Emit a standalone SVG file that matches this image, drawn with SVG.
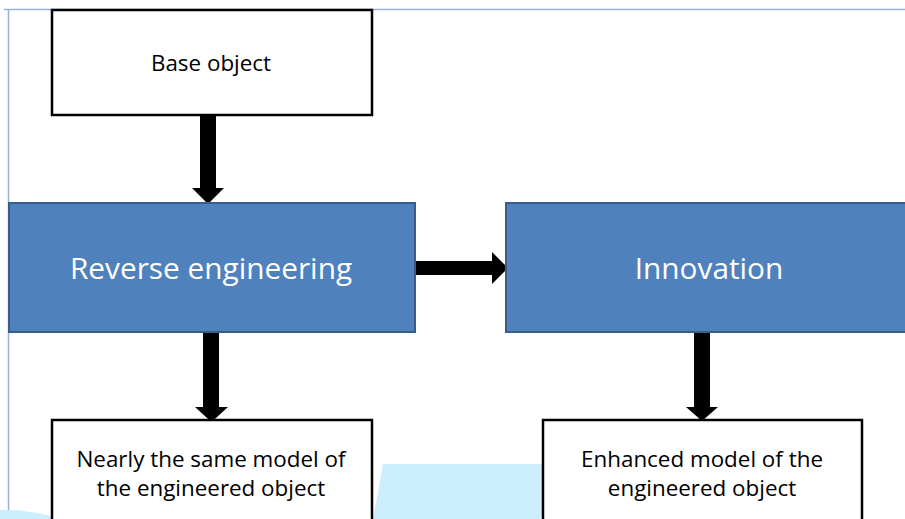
<svg xmlns="http://www.w3.org/2000/svg" width="905" height="519" viewBox="0 0 905 519">
<style>
.wbox{fill:#ffffff;stroke:#000000;stroke-width:2.5}
.bbox{fill:#4f81bd;stroke:#385d8a;stroke-width:2}
.dt{font-family:"Open Sans","Liberation Sans",sans-serif;font-size:22.4px;fill:#000000;text-anchor:middle}
.lt{font-family:"Open Sans","Liberation Sans",sans-serif;font-size:29.8px;fill:#ffffff;text-anchor:middle}
.arr{fill:#000000}
.frame{stroke:#95b3d7;stroke-width:1.5;fill:none}
.deco{fill:#cdeefd}
</style>
<rect width="905" height="519" fill="#ffffff"/>
<g id="frame">
<path class="frame" d="M4 9.5 H905 M8.5 9.5 V519"/>
</g>
<g id="decor">
<path class="deco" d="M383 464 L545 464 L545 514 L540 519 L373 519 Z"/>
<path class="deco" d="M0 510 Q30 509 62 519 L0 519 Z"/>
</g>
<g id="connectors">
<polygon class="arr" points="200,115 216,115 216,188 224,188 208,204 192,188 200,188"/>
<polygon class="arr" points="203,332 219,332 219,407 228,407 211.5,422 195,407 203,407"/>
<polygon class="arr" points="694,332 710,332 710,407 718,407 702,421 686,407 694,407"/>
<polygon class="arr" points="416,261 492,261 492,252 508,268 492,284 492,275 416,275"/>
</g>
<g id="base">
<rect class="wbox" x="52" y="10" width="320" height="105"/>
<text class="dt" x="211" y="71">Base object</text>
</g>
<g id="reverse">
<rect class="bbox" x="9" y="203" width="406" height="129"/>
<text class="lt" x="211" y="279">Reverse engineering</text>
</g>
<g id="innovation">
<rect class="bbox" x="506" y="203" width="410" height="129"/>
<text class="lt" x="709" y="279">Innovation</text>
</g>
<g id="nearly">
<rect class="wbox" x="52" y="420" width="320" height="110"/>
<text class="dt" x="211" y="467">Nearly the same model of</text>
<text class="dt" x="211" y="496">the engineered object</text>
</g>
<g id="enhanced">
<rect class="wbox" x="543" y="420" width="319" height="110"/>
<text class="dt" x="702" y="467">Enhanced model of the</text>
<text class="dt" x="702" y="496">engineered object</text>
</g>
</svg>
